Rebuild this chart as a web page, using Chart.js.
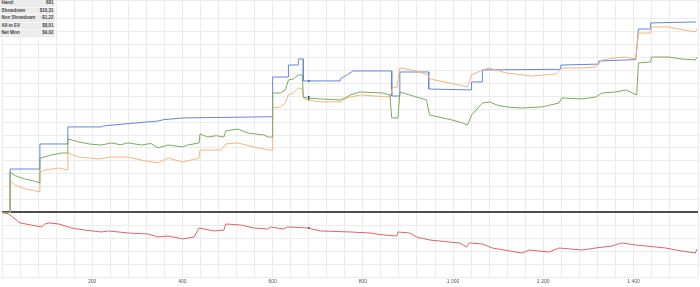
<!DOCTYPE html>
<html>
<head>
<meta charset="utf-8">
<script src="https://cdn.jsdelivr.net/npm/chart.js@4.4.0/dist/chart.umd.min.js"></script>
<style>
    html, body { margin: 0; padding: 0; background: #fff; }
    #wrap { position: relative; width: 700px; height: 287px; }
    #stats {
        position: absolute; left: 0; top: 0; width: 55px;
        background: #ececec; border-collapse: collapse;
        font-family: "Liberation Sans", Arial, sans-serif; font-size: 4.5px; font-weight: bold; color: #444;
    }
    #stats td { padding: 0 1.5px; height: 6.6px; line-height: 6.6px; white-space: nowrap; border-bottom: 0.5px solid #f8f8f8; }
    #stats td.v { text-align: right; }
</style>
</head>
<body>
<div id="wrap">
    <canvas id="graph" width="700" height="287"></canvas>
    <table id="stats">
        <tr><td>Hand:</td><td class="v">681</td></tr>
        <tr><td>Showdown</td><td class="v">$10,31</td></tr>
        <tr><td>Non Showdown</td><td class="v">-$1,22</td></tr>
        <tr><td>All-in EV</td><td class="v">$8,01</td></tr>
        <tr><td>Net Won</td><td class="v">$9,02</td></tr>
    </table>
</div>
<script>
// courbes (x = mains, y = unités de grille)
const showdownHands = [0, 18, 18, 84, 84, 146, 146, 220, 225, 271, 346, 359, 404, 514, 591, 600, 600, 635, 635, 657, 657, 668, 668, 750, 750, 765, 778, 864, 864, 882, 882, 946, 946, 1041, 1041, 1065, 1065, 1239, 1239, 1323, 1323, 1405, 1411, 1438, 1438, 1539];
const showdownValues = [0, 0, 3.37, 3.37, 5.31, 5.31, 6.63, 6.63, 6.71, 6.86, 7.09, 7.2, 7.33, 7.38, 7.42, 7.42, 10.5, 10.5, 11.43, 11.43, 11.9, 11.9, 10.2, 10.2, 10.35, 10.66, 10.97, 10.97, 9.03, 9.03, 10.89, 10.89, 9.57, 9.5, 10.12, 10.12, 11.05, 11.1, 11.43, 11.5, 11.74, 11.85, 14.22, 14.22, 14.69, 14.77];

const netWonHands = [0, 18, 18, 30, 50, 70, 84, 84, 110, 132, 146, 146, 170, 195, 220, 243, 262, 280, 309, 330, 346, 368, 401, 412, 437, 439, 456, 475, 492, 496, 523, 545, 580, 591, 600, 600, 617, 628, 635, 646, 657, 666, 668, 677, 706, 750, 765, 772, 794, 845, 860, 864, 878, 882, 904, 919, 941, 948, 977, 1000, 1021, 1032, 1041, 1065, 1080, 1100, 1118, 1153, 1197, 1235, 1241, 1286, 1316, 1330, 1360, 1383, 1407, 1411, 1438, 1440, 1477, 1506, 1537, 1541];
const netWonValues = [0, 0, 3.14, 2.85, 2.6, 2.45, 2.29, 4.22, 4.46, 4.61, 4.61, 5.7, 5.47, 5.3, 5.23, 5.39, 5.25, 5.39, 5.23, 5.35, 5.0, 5.23, 5.08, 5.23, 5.39, 6.09, 5.85, 5.95, 5.85, 6.32, 6.47, 6.16, 6.01, 5.85, 5.85, 9.26, 9.26, 9.5, 10.27, 10.35, 10.66, 10.66, 8.95, 8.88, 8.8, 8.72, 8.95, 9.11, 9.34, 9.26, 9.11, 7.33, 7.33, 9.34, 9.11, 8.95, 8.72, 7.56, 7.33, 7.15, 6.94, 6.78, 7.56, 8.49, 8.57, 8.3, 8.18, 8.1, 8.18, 8.49, 8.88, 8.8, 8.95, 9.26, 9.34, 9.5, 9.11, 11.59, 11.67, 12.05, 12.05, 11.9, 11.82, 12.05];

const allinEvHands = [0, 18, 18, 30, 50, 70, 84, 84, 95, 126, 146, 146, 170, 214, 243, 280, 310, 346, 368, 401, 437, 439, 485, 496, 523, 558, 591, 600, 600, 617, 628, 635, 646, 657, 666, 668, 677, 706, 750, 765, 772, 794, 860, 867, 875, 882, 919, 944, 948, 992, 1032, 1041, 1065, 1080, 1118, 1175, 1228, 1241, 1286, 1316, 1330, 1360, 1383, 1405, 1411, 1438, 1440, 1477, 1537, 1541];
const allinEvValues = [0, 0, 2.44, 2.1, 1.85, 1.7, 1.59, 3.14, 3.29, 3.45, 3.29, 4.61, 4.3, 4.15, 4.3, 4.3, 4.05, 3.84, 4.22, 3.91, 4.22, 4.84, 4.84, 5.31, 5.39, 5.08, 4.84, 4.84, 8.1, 8.18, 8.49, 9.11, 9.26, 9.65, 9.57, 8.88, 8.72, 8.57, 8.57, 8.88, 8.95, 9.11, 8.95, 9.73, 9.65, 11.2, 10.97, 10.66, 10.35, 10.04, 9.73, 10.66, 11.05, 11.2, 10.81, 10.58, 10.74, 11.2, 11.2, 11.28, 11.82, 11.98, 12.05, 11.9, 13.91, 13.91, 14.38, 14.38, 13.99, 14.22];

const nonShowdownHands = [0, 15, 40, 88, 95, 104, 126, 154, 183, 220, 236, 280, 324, 346, 368, 401, 426, 437, 470, 492, 496, 529, 558, 589, 595, 624, 633, 677, 706, 772, 816, 845, 875, 878, 904, 919, 948, 992, 1014, 1030, 1036, 1065, 1087, 1125, 1153, 1169, 1213, 1235, 1286, 1316, 1352, 1374, 1405, 1471, 1506, 1537, 1541];
const nonShowdownValues = [0, -0.12, -0.81, -1.12, -0.89, -0.81, -0.89, -1.2, -1.36, -1.51, -1.43, -1.59, -1.67, -1.9, -1.82, -2.05, -1.9, -1.2, -1.43, -1.36, -0.89, -0.97, -1.2, -1.28, -1.12, -1.28, -1.12, -1.2, -1.43, -1.51, -1.59, -1.74, -1.82, -1.51, -1.59, -1.9, -2.13, -2.29, -2.36, -2.67, -2.36, -2.44, -2.75, -2.98, -3.14, -2.91, -3.06, -2.75, -2.91, -2.75, -2.6, -2.36, -2.52, -2.75, -2.98, -3.14, -2.83];

// petits repères foncés
const markerHands = [680, 680, 680, 680];
const markerValues = [10.19, 8.95, 8.8, -1.2];

const xLabelStep = 200;

function toPoints(xs, ys) {
    let points = [];
    for (let i = 0; i < xs.length; i++) {
        points.push({x: xs[i], y: ys[i]});
    }
    return points;
}

function serie(label, xs, ys, color) {
    return {
        label: label,
        data: toPoints(xs, ys),
        borderColor: color,
        backgroundColor: color,
        borderWidth: 1,
        pointRadius: 0,
        pointHoverRadius: 0,
        tension: 0,
        fill: false
    };
}

let ctx = document.getElementById('graph').getContext('2d');
new Chart(ctx, {
    type: 'line',
    data: {
        datasets: [
            serie('Net Won', netWonHands, netWonValues, '#7aab5c'),
            serie('All-in EV', allinEvHands, allinEvValues, '#f5b57e'),
            serie('Showdown', showdownHands, showdownValues, '#6088dc'),
            serie('Non Showdown', nonShowdownHands, nonShowdownValues, '#e06464'),
            {
                label: 'markers',
                type: 'scatter',
                data: toPoints(markerHands, markerValues),
                pointRadius: 1,
                pointHoverRadius: 1,
                pointBackgroundColor: '#1a237e',
                pointBorderWidth: 0
            }
        ]
    },
    options: {
        responsive: false,
        animation: false,
        layout: {padding: 0, autoPadding: false},
        plugins: {legend: {display: false}, tooltip: {enabled: false}},
        scales: {
            x: {
                type: 'linear',
                min: 0,
                max: 1543,
                border: {display: false},
                grid: {color: '#ececec', lineWidth: 1, drawTicks: false},
                ticks: {
                    stepSize: 40,
                    autoSkip: false,
                    maxRotation: 0,
                    padding: 2,
                    color: '#555',
                    font: {family: 'Liberation Sans', size: 5},
                    callback: function (v) {
                        if (v > 0 && v % xLabelStep === 0) {
                            return v >= 1000 ? Math.floor(v / 1000) + ' ' + String(v % 1000).padStart(3, '0') : String(v);
                        }
                        return '';
                    }
                }
            },
            y: {
                min: -5,
                max: 16.47,
                border: {display: false},
                afterFit: s => { s.width = 0; },
                grid: {
                    drawTicks: false,
                    color: c => c.tick && c.tick.value === 0 ? '#4d4d4d' : '#ececec',
                    lineWidth: c => c.tick && c.tick.value === 0 ? 2 : 1
                },
                ticks: {display: false, stepSize: 1}
            }
        }
    }
});
</script>
</body>
</html>
